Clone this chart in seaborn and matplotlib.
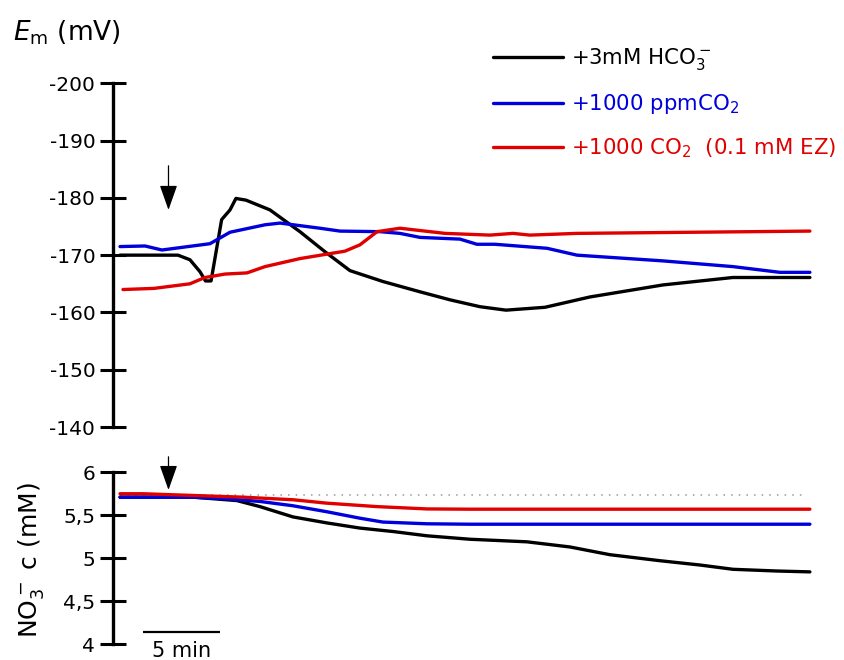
import numpy as np
import pandas as pd
import matplotlib
matplotlib.use('Agg')
import matplotlib.pyplot as plt
import seaborn as sns

# ---------------- data (time in minutes) ----------------
# Top panel: membrane potential Em (mV)
em_black_t = [0, 3.73, 4.50, 5.15, 5.50, 5.86, 6.54, 7.08, 7.46, 8.11, 9.65, 11.58,
              13.19, 14.80, 16.92, 19.31, 21.24, 23.17, 24.84, 27.35, 30.24, 34.94, 39.44, 44.40]
em_black_v = [-170, -170, -169.2, -167.1, -165.5, -165.5, -176.2, -177.9, -179.9, -179.6, -177.9, -174.1,
              -170.6, -167.3, -165.4, -163.6, -162.2, -161.0, -160.4, -160.9, -162.7, -164.8, -166.1, -166.1]

em_blue_t = [0, 1.61, 2.70, 5.79, 7.08, 9.33, 10.30, 12.87, 14.16, 16.73, 18.02, 19.31,
             21.88, 22.97, 24.13, 27.48, 29.41, 34.94, 39.45, 42.47, 44.40]
em_blue_v = [-171.5, -171.6, -170.9, -172.0, -174.0, -175.3, -175.6, -174.7, -174.2, -174.1, -173.8, -173.1,
             -172.8, -171.9, -171.9, -171.2, -170.0, -169.0, -168.0, -167.0, -167.0]

em_red_t = [0.19, 2.19, 4.50, 5.47, 6.76, 8.17, 9.33, 11.58, 14.48, 15.44, 16.54, 18.02,
            19.63, 20.92, 23.81, 25.29, 26.38, 29.41, 44.40]
em_red_v = [-164.0, -164.2, -165.0, -166.1, -166.7, -166.9, -168.0, -169.4, -170.7, -171.8, -174.1, -174.7,
            -174.2, -173.8, -173.5, -173.8, -173.5, -173.8, -174.2]

# Bottom panel: NO3- concentration (mM)
no3_black_t = [0, 4.70, 7.53, 9.01, 11.13, 13.32, 15.44, 17.57, 19.76, 22.52, 26.19, 28.96,
               31.53, 34.75, 37.32, 39.45, 42.28, 44.40]
no3_black_v = [5.71, 5.71, 5.67, 5.60, 5.48, 5.41, 5.35, 5.31, 5.26, 5.22, 5.19, 5.13,
               5.04, 4.97, 4.92, 4.87, 4.85, 4.84]

no3_blue_t = [0, 4.70, 6.89, 9.01, 11.13, 13.32, 15.44, 16.92, 19.76, 22.52, 44.40]
no3_blue_v = [5.71, 5.71, 5.69, 5.66, 5.61, 5.54, 5.465, 5.42, 5.40, 5.395, 5.395]

no3_red_t = [0, 1.48, 4.70, 7.92, 11.13, 13.32, 16.54, 19.76, 22.52, 44.40]
no3_red_v = [5.75, 5.75, 5.73, 5.71, 5.68, 5.64, 5.60, 5.573, 5.57, 5.57]

baseline_no3 = 5.74
arrow_t = 3.12

labels = [r'+3mM HCO$_3^-$', r'+1000 ppmCO$_2$', r'+1000 CO$_2$  (0.1 mM EZ)']
colors = ['#000000', '#0000dc', '#e10000']

em_ticks = [-200, -190, -180, -170, -160, -150, -140]
no3_ticks = [4, 4.5, 5, 5.5, 6]
no3_ticklabels = ['4', '4,5', '5', '5,5', '6']

# ---------------- styling ----------------
sns.set_style('ticks')
plt.rcParams['font.family'] = ['DejaVu Sans']
plt.rcParams['mathtext.fontset'] = 'dejavusans'
plt.rcParams['text.color'] = 'black'

fig = plt.figure(figsize=(8.45, 6.6), dpi=100)
xl = (-0.431, 45.05)
ax1 = fig.add_axes([0.1341, 0.3530, 0.8363, 0.5208])
ax2 = fig.add_axes([0.1341, 0.02424, 0.8363, 0.2602])

def series_df(t, v, name):
    return pd.DataFrame({'t': t, 'v': v, 'series': name})

top = pd.concat([series_df(em_black_t, em_black_v, labels[0]),
                 series_df(em_blue_t, em_blue_v, labels[1]),
                 series_df(em_red_t, em_red_v, labels[2])], ignore_index=True)
bot = pd.concat([series_df(no3_black_t, no3_black_v, labels[0]),
                 series_df(no3_blue_t, no3_blue_v, labels[1]),
                 series_df(no3_red_t, no3_red_v, labels[2])], ignore_index=True)

pal = dict(zip(labels, colors))
sns.lineplot(data=top, x='t', y='v', hue='series', palette=pal, estimator=None,
             sort=False, lw=2.4, ax=ax1, legend=False)
ax2.hlines(baseline_no3, 0, 44.1, colors='#9a9a9a', lw=1.1, linestyles=(0, (1, 4)))
sns.lineplot(data=bot, x='t', y='v', hue='series', palette=pal, estimator=None,
             sort=False, lw=2.4, ax=ax2, legend=False)

for ax in (ax1, ax2):
    ax.set_xlim(*xl)
    ax.set_xlabel('')
    ax.set_ylabel('')
    ax.set_xticks([])
    for s in ('top', 'right', 'bottom'):
        ax.spines[s].set_visible(False)
    ax.spines['left'].set_linewidth(2.4)
    ax.spines['left'].set_color('black')
    ax.tick_params(axis='y', direction='inout', length=19, width=2.2, pad=3.5,
                   labelsize=14.5, colors='black')
    ax.patch.set_visible(False)

ax1.set_ylim(-140, -200)
ax1.set_yticks(em_ticks)
ax1.set_yticklabels([str(t) for t in em_ticks])
ax2.set_ylim(4, 6)
ax2.set_yticks(no3_ticks)
ax2.set_yticklabels(no3_ticklabels)

# legend
handles = ax1.get_lines()[:3]
leg = ax1.legend(handles, labels, loc='upper left', bbox_to_anchor=(0.5831, 1 - 46 / 660),
                 bbox_transform=fig.transFigure, frameon=False, fontsize=15.3,
                 handlelength=3.3, handletextpad=0.4, labelspacing=0.95,
                 borderpad=0, borderaxespad=0, labelcolor='linecolor')

# arrows
ap = dict(arrowstyle='-|>,head_length=1.55,head_width=0.55', lw=0.9, color='black',
          shrinkA=0, shrinkB=0)
ax1.annotate('', xy=(arrow_t, -177.9), xytext=(arrow_t, -185.6), arrowprops=ap,
             annotation_clip=False)
ax2.annotate('', xy=(arrow_t, 5.794), xytext=(arrow_t, 6.18), arrowprops=ap,
             annotation_clip=False)

# scale bar
ax2.plot([1.46, 6.46], [4.14, 4.14], color='black', lw=1.6, solid_capstyle='butt', clip_on=False)
ax2.text(3.96, 3.914, '5 min', ha='center', va='center', fontsize=15, color='black')

# axis labels
fig.text(0.015, 1 - 40.7 / 660, r'$\mathit{E}_{\mathregular{m}}$ (mV)', fontsize=19,
         ha='left', va='baseline', color='black')
fig.text(0.0367, 1 - 560 / 660, r'NO$_3^-$ c (mM)', fontsize=18, rotation=90,
         ha='center', va='center', color='black')

fig.savefig('out.png', dpi=100)
